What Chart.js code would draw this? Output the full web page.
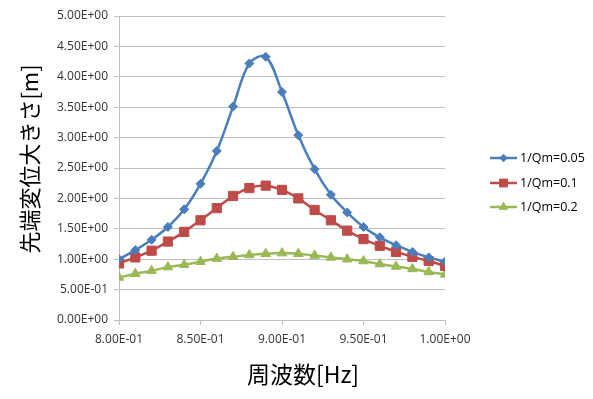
<!DOCTYPE html>
<html>
<head>
<meta charset="utf-8">
<script src="https://cdn.jsdelivr.net/npm/chart.js@4"></script>
<style>
  html, body { margin: 0; padding: 0; background: #fff; }
  #wrap { width: 593px; height: 399px; position: relative; }
</style>
</head>
<body>
<div id="wrap"><canvas id="chart"></canvas></div>
<script>
// frequency [Hz] (x values)
const freq = [0.80, 0.81, 0.82, 0.83, 0.84, 0.85, 0.86, 0.87, 0.88, 0.89, 0.90,
              0.91, 0.92, 0.93, 0.94, 0.95, 0.96, 0.97, 0.98, 0.99, 1.00];

const seriesLabels = ['1/Qm=0.05', '1/Qm=0.1', '1/Qm=0.2'];

// tip displacement [m]
const qm005 = [1.00, 1.15, 1.32, 1.53, 1.82, 2.24, 2.78, 3.51, 4.22, 4.33, 3.75,
               3.04, 2.48, 2.06, 1.77, 1.53, 1.36, 1.23, 1.12, 1.03, 0.96];
const qm01  = [0.93, 1.03, 1.14, 1.29, 1.45, 1.64, 1.84, 2.04, 2.17, 2.21, 2.14,
               2.00, 1.81, 1.64, 1.47, 1.33, 1.22, 1.12, 1.04, 0.97, 0.89];
const qm02  = [0.70, 0.76, 0.81, 0.87, 0.91, 0.96, 1.01, 1.04, 1.07, 1.09, 1.10,
               1.09, 1.06, 1.03, 1.00, 0.97, 0.92, 0.88, 0.84, 0.79, 0.75];

const xTitle = '周波数[Hz]';
const yTitle = '先端変位大きさ[m]';

const colors = ['#4a7ebb', '#be4b48', '#98b954'];
const markers = ['rectRot', 'rect', 'triangle'];
const markerSize = [4.5, 6.5, 5.5];

const tickFont = { family: '"Open Sans", "Liberation Sans", sans-serif', size: 12 };

// Excel-like scientific format, e.g. 5.00E+00
function sci(v) {
  const s = Number(v).toExponential(2).toUpperCase();
  const [m, e] = s.split('E');
  return m + 'E' + e[0] + e.slice(1).padStart(2, '0');
}

const toPoints = (ys) => ys.map((y, i) => ({ x: freq[i], y }));

// legend (line + marker) and axis titles, placed like the original
const excelDecor = {
  id: 'excelDecor',
  afterDraw(chart) {
    const ctx = chart.ctx;
    const x0 = 490, x1 = 517, textX = 520;
    const rows = [158, 183, 207];
    ctx.save();
    chart.data.datasets.forEach((ds, i) => {
      const y = rows[i];
      ctx.strokeStyle = ds.borderColor;
      ctx.lineWidth = 2.5;
      ctx.beginPath();
      ctx.moveTo(x0, y);
      ctx.lineTo(x1, y);
      ctx.stroke();
      ctx.fillStyle = ds.backgroundColor;
      ctx.lineWidth = 1;
      Chart.helpers.drawPoint(ctx, {
        pointStyle: ds.pointStyle,
        radius: ds.pointRadius * 0.85,
        rotation: 0,
        borderWidth: 1
      }, (x0 + x1) / 2, y);
      ctx.fillStyle = '#000';
      ctx.font = '12.5px "Open Sans", "Liberation Sans", sans-serif';
      ctx.textAlign = 'left';
      ctx.textBaseline = 'middle';
      ctx.fillText(ds.label, textX, y);
    });

    ctx.fillStyle = '#000';
    ctx.textAlign = 'center';
    ctx.textBaseline = 'middle';
    ctx.font = '23px "Noto Sans CJK JP", sans-serif';
    ctx.fillText(xTitle, 303, 374);
    ctx.translate(30, 159);
    ctx.rotate(-Math.PI / 2);
    ctx.font = '22px "Noto Sans CJK JP", sans-serif';
    ctx.fillText(yTitle, 0, 0);
    ctx.restore();
  }
};

const datasets = [qm005, qm01, qm02].map((ys, i) => ({
  label: seriesLabels[i],
  data: toPoints(ys),
  borderColor: colors[i],
  backgroundColor: colors[i],
  pointStyle: markers[i],
  pointRadius: markerSize[i],
  pointHoverRadius: markerSize[i],
  pointBorderWidth: 1,
  borderWidth: 2.5,
  tension: 0.35,
  fill: false
}));

const ctx = document.getElementById('chart').getContext('2d');
new Chart(ctx, {
  type: 'line',
  data: { datasets },
  options: {
    responsive: true,
    maintainAspectRatio: false,
    animation: false,
    layout: { padding: { left: 0, top: 16, right: 148, bottom: 0 } },
    plugins: {
      legend: { display: false },
      tooltip: { enabled: false }
    },
    scales: {
      x: {
        type: 'linear',
        min: 0.8,
        max: 1.0,
        afterFit: (scale) => { scale.height = 79; },
        ticks: {
          stepSize: 0.05,
          color: '#333',
          padding: 7,
          maxRotation: 0,
          font: tickFont,
          callback: (v) => sci(v)
        },
        grid: { drawOnChartArea: false, color: '#bfbfbf', tickLength: 5 },
        border: { color: '#bfbfbf' }
      },
      y: {
        min: 0,
        max: 5,
        afterFit: (scale) => { scale.width = 119; },
        ticks: {
          stepSize: 0.5,
          color: '#333',
          padding: 6,
          font: tickFont,
          callback: (v) => sci(v)
        },
        grid: { color: '#bfbfbf', tickLength: 5 },
        border: { color: '#bfbfbf' }
      }
    }
  },
  plugins: [excelDecor]
});
</script>
</body>
</html>
